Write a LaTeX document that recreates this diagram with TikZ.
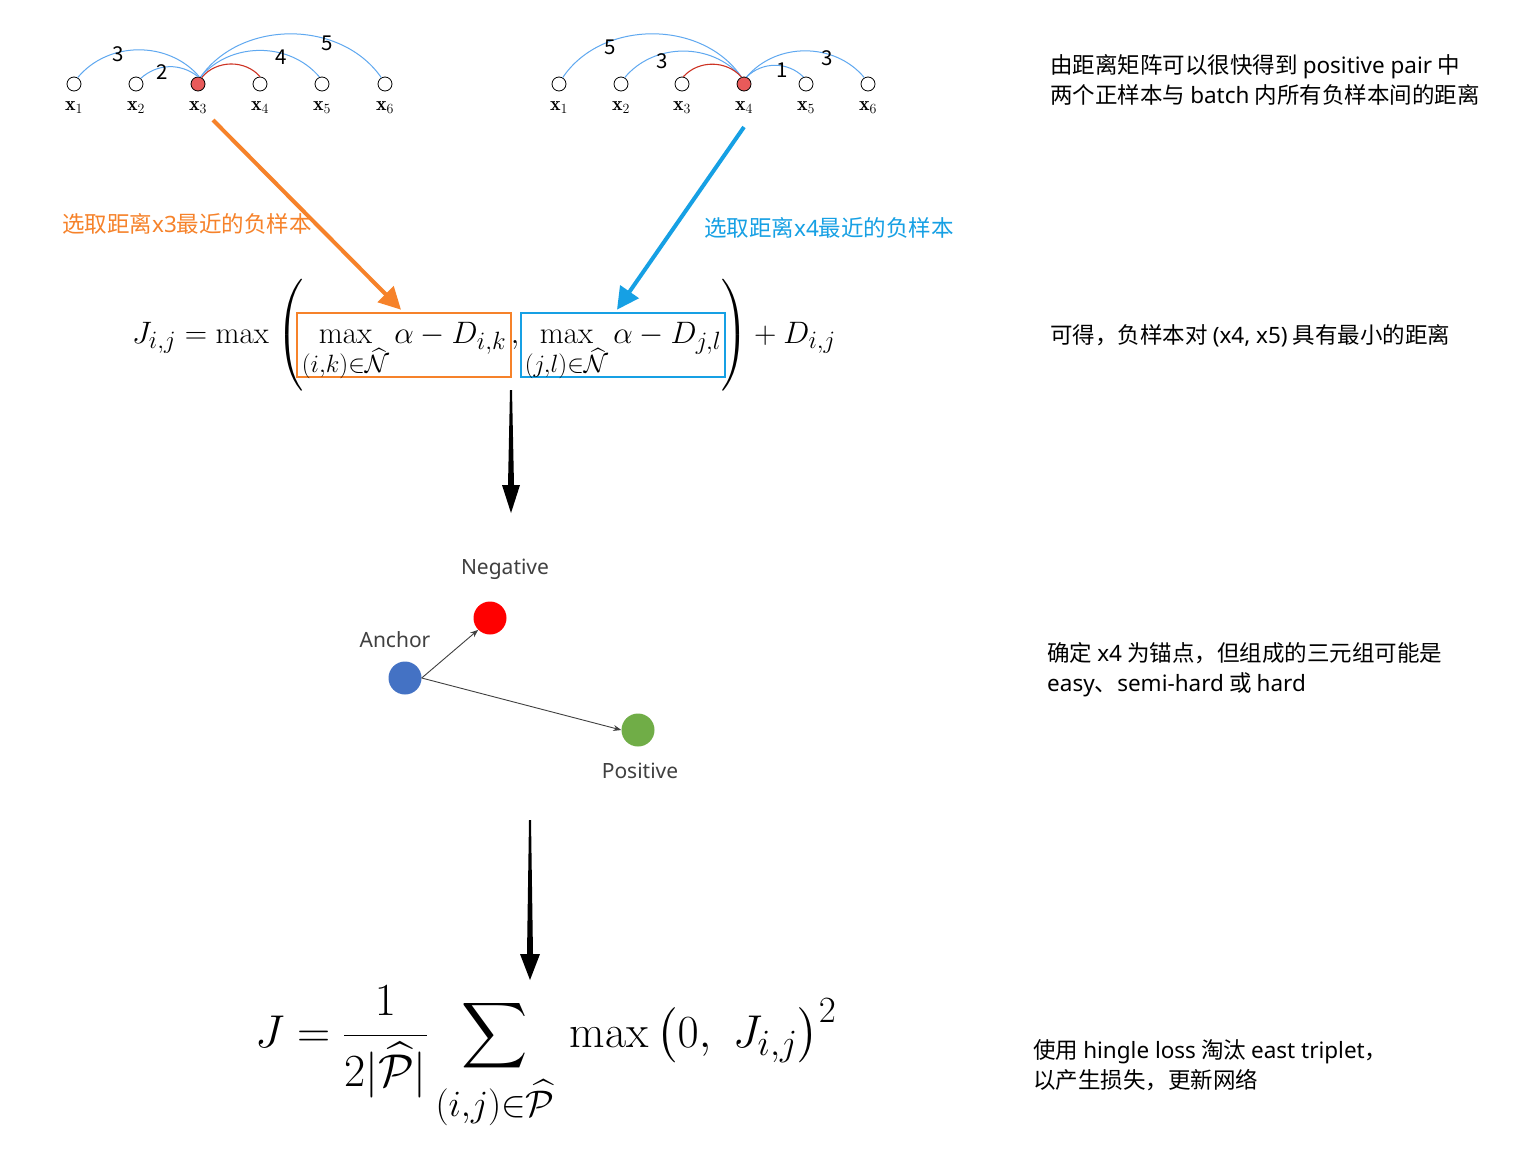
\RequirePackage{fix-cm}
\documentclass[tikz,border=0pt]{standalone}
\usepackage{amsmath,amssymb}
\usepackage{fontspec}
\newfontfamily\cjk{Noto Sans CJK SC}
\newfontfamily\lab{Noto Sans}
\newcommand{\lt}[1]{{\lab #1}}
\DeclareMathSizes{31}{31}{25}{19}
\DeclareMathSizes{46}{46}{37}{28}
\DeclareMathSizes{20}{20}{14}{10}
\usetikzlibrary{arrows.meta,calc}
\definecolor{arcblue}{RGB}{95,168,240}
\definecolor{arcred}{RGB}{205,50,35}
\definecolor{nodered}{RGB}{232,90,90}
\definecolor{orng}{RGB}{246,130,42}
\definecolor{skyb}{RGB}{22,160,228}
\definecolor{ancblue}{RGB}{68,114,196}
\definecolor{negred}{RGB}{255,0,0}
\definecolor{posgreen}{RGB}{112,173,71}
\definecolor{labgray}{RGB}{64,64,64}
\tikzset{
  gnode/.style={circle, draw=black, line width=0.8pt, fill=white, minimum size=14pt, inner sep=0pt},
  anchornode/.style={gnode, fill=nodered},
  blarc/.style={draw=arcblue, line width=1pt},
  rdarc/.style={draw=arcred, line width=1.1pt},
  num/.style={font=\cjk\fontsize{20.5}{20.5}\selectfont, inner sep=0pt},
  xlab/.style={font=\fontsize{20}{20}\selectfont, inner sep=0pt, anchor=base},
  eq/.style={font=\fontsize{31}{36}\selectfont, inner sep=0pt},
  eqbox/.style={eq, line width=2.6pt, text height=26pt, text depth=30pt, inner ysep=4pt, inner xsep=0pt, anchor=base},
  eqb/.style={font=\fontsize{46}{52}\selectfont, inner sep=0pt},
  bigarrow/.style={line width=4pt, -{Triangle[length=22pt,width=22pt]}},
  dot/.style={circle, minimum size=33pt, inner sep=0pt},
  lbl/.style={font=\lab\fontsize{21}{21}\selectfont, text=labgray, inner sep=0pt},
  thinarrow/.style={draw=labgray, line width=0.9pt, -{Stealth[length=8pt,width=6pt]}},
  txt/.style={font=\cjk\fontsize{22.5}{30}\selectfont, align=left, anchor=west, inner sep=0pt},
  seltxt/.style={font=\cjk\fontsize{22.5}{22.5}\selectfont, anchor=west, inner sep=0pt},
}
\begin{document}
\begin{tikzpicture}[x=1pt,y=-1pt]
\useasboundingbox[fill=white] (0,0) rectangle (1531,1165);

% ---------- left graph ----------
\foreach \i/\xx in {1/74,2/136,4/260,5/322,6/385}{
  \node[gnode] (a\i) at (\xx,84) {};
}
\node[anchornode] (a3) at (198,84) {};
\foreach \i/\xx in {1/74,2/136,3/198,4/260,5/322,6/385}{
  \node[xlab] (la\i) at (\xx,110) {$\mathbf{x}_{\i}$};
}
\draw[blarc] (a1.60) to[bend left=50] (a3.80);
\draw[blarc] (a2.50) to[bend left=40] (a3.90);
\draw[rdarc] (a3.60) to[bend left=50] (a4.90);
\draw[blarc] (a3.70) to[bend left=50] (a5.110);
\draw[blarc] (a3.70) to[bend left=55] (a6.120);
\node[num] (n13) at (118,54) {3};
\node[num] (n23) at (162,72) {2};
\node[num] (n35) at (281,57) {4};
\node[num] (n36) at (327,43) {5};

% ---------- right graph ----------
\foreach \i/\xx in {1/559,2/621,3/682,5/806,6/868}{
  \node[gnode] (b\i) at (\xx,84) {};
}
\node[anchornode] (b4) at (744,84) {};
\foreach \i/\xx in {1/559,2/621,3/682,4/744,5/806,6/868}{
  \node[xlab] (lb\i) at (\xx,110) {$\mathbf{x}_{\i}$};
}
\draw[blarc] (b1.60) to[bend left=56] (b4.110);
\draw[blarc] (b2.60) to[bend left=50] (b4.110);
\draw[rdarc] (b3.80) to[bend left=48] (b4.110);
\draw[blarc] (b4.70) to[bend left=45] (b5.110);
\draw[blarc] (b4.70) to[bend left=50] (b6.120);
\node[num] (m14) at (610,47) {5};
\node[num] (m24) at (662,61) {3};
\node[num] (m45) at (782,70) {1};
\node[num] (m46) at (827,58) {3};

% ---------- selection texts ----------
\node[seltxt, text=orng] (selA) at (62,224) {选取距离\lt{x3}最近的负样本};
\node[seltxt, text=skyb] (selB) at (704,228) {选取距离\lt{x4}最近的负样本};

% ---------- equation J_{i,j} ----------
\node[eq, anchor=base west] (lhs) at (132,343) {$J_{i,j} = \max$};
\node[eq] (lp) at (291,335) {$\left(\vrule height 46pt depth 46pt width 0pt\right.$};
\node[eqbox, draw=orng, minimum width=214pt] (boxA) at (404,343) {$\displaystyle\max_{(i,k)\in\widehat{\mathcal{N}}}\alpha - D_{i,k}$};
\node[eq, anchor=base] (cma) at (515,343) {$,$};
\node[eqbox, draw=skyb, minimum width=204pt] (boxB) at (623,343) {$\displaystyle\max_{(j,l)\in\widehat{\mathcal{N}}}\alpha - D_{j,l}$};
\node[eq] (rp) at (734,335) {$\left.\vrule height 46pt depth 46pt width 0pt\right)$};
\node[eq, anchor=base west] (rhs) at (747,343) {${}+D_{i,j}$};

\coordinate (oS) at (213,120);
\coordinate (bS) at (744,127);
\draw[bigarrow, draw=orng, fill=orng] (oS) -- ([xshift=-3pt,yshift=2pt]boxA.north);
\draw[bigarrow, draw=skyb, fill=skyb] (bS) -- ([xshift=-6pt,yshift=2pt]boxB.north);

% ---------- black arrows ----------
\coordinate (d1s) at (511,390);
\coordinate (d1e) at (511,513);
\fill[black] ($(d1s)+(-1,0)$) -- ($(d1s)+(1,0)$) -- ($(d1e)+(3,-28)$) -- ($(d1e)+(9,-28)$) -- (d1e) -- ($(d1e)+(-9,-28)$) -- ($(d1e)+(-3,-28)$) -- cycle;
\coordinate (d2s) at (530,820);
\coordinate (d2e) at (530,980);
\fill[black] ($(d2s)+(-1,0)$) -- ($(d2s)+(1,0)$) -- ($(d2e)+(3,-26)$) -- ($(d2e)+(10,-26)$) -- (d2e) -- ($(d2e)+(-10,-26)$) -- ($(d2e)+(-3,-26)$) -- cycle;

% ---------- triplet ----------
\node[dot, fill=negred] (neg) at (490,618) {};
\node[dot, fill=ancblue] (anc) at (405,678) {};
\node[dot, fill=posgreen] (pos) at (638,730) {};
\node[lbl] (negl) at (505,569) {Negative};
\node[lbl] (ancl) at (395,640) {Anchor};
\node[lbl] (posl) at (640,771) {Positive};
\draw[thinarrow] (anc.east) -- (neg.225);
\draw[thinarrow] (anc.east) -- (pos.west);

% ---------- loss ----------
\node[eqb, anchor=base west] (loss) at (255,1047) {$J =\dfrac{1}{2|\widehat{\mathcal{P}}|}\displaystyle\sum_{(i,j)\in\widehat{\mathcal{P}}}\, \max\left(0,\ J_{i,j}\right)^2$};

% ---------- notes ----------
\node[txt] (t1) at (1050,80) {由距离矩阵可以很快得到 \lt{positive pair} 中\\两个正样本与 \lt{batch} 内所有负样本间的距离};
\node[txt] (t2) at (1050,336) {可得，负样本对 \lt{(x4, x5)} 具有最小的距离};
\node[txt] (t3) at (1047,670) {确定 \lt{x4} 为锚点，但组成的三元组可能是\\\lt{easy}、\lt{semi-hard} 或 \lt{hard}};
\node[txt] (t4) at (1033,1065) {使用 \lt{hingle loss} 淘汰 \lt{east triplet}，\\以产生损失，更新网络};
\end{tikzpicture}
\end{document}
